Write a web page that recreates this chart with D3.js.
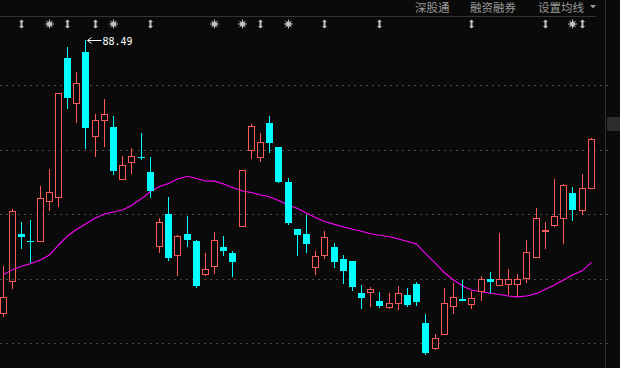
<!DOCTYPE html>
<html>
<head>
<meta charset="utf-8">
<script src="https://cdn.jsdelivr.net/npm/d3@7"></script>
<style>
  html, body { margin: 0; padding: 0; background: #0a0a0a; overflow: hidden; }
  svg { display: block; }
</style>
</head>
<body>
<svg id="chart" width="620" height="368"></svg>
<script>
// ---------- data ----------
const days = d3.range(1, 66);
const open = [67.29, 69.78, 73.50, 72.95, 72.88, 75.98, 76.29, 87.12, 83.57, 87.58, 81.02, 82.26, 81.77, 77.68, 79.00, 79.43, 78.28, 72.49, 75.02, 71.79, 73.47, 72.93, 70.32, 70.94, 72.47, 72.00, 73.98, 79.88, 79.34, 82.08, 80.22, 77.50, 73.86, 73.47, 70.86, 71.79, 72.47, 71.53, 71.38, 68.90, 68.92, 68.28, 67.76, 68.07, 68.74, 69.60, 66.57, 64.58, 65.62, 67.84, 68.43, 67.99, 68.94, 69.98, 69.47, 69.54, 69.54, 69.96, 71.64, 73.68, 74.09, 74.66, 76.65, 75.28, 76.98];
const close = [68.59, 75.26, 73.24, 72.92, 76.26, 76.73, 84.40, 84.04, 85.18, 81.71, 82.31, 82.78, 78.38, 78.82, 79.50, 79.41, 76.83, 74.40, 71.61, 73.32, 73.03, 69.47, 70.74, 73.01, 72.18, 71.33, 78.41, 81.82, 80.58, 80.55, 77.53, 74.35, 73.42, 72.72, 71.77, 73.24, 71.33, 70.63, 69.39, 68.53, 69.21, 67.91, 68.10, 68.88, 67.97, 68.22, 64.27, 65.39, 68.10, 68.59, 68.30, 68.51, 69.98, 69.78, 69.98, 69.98, 69.98, 72.08, 74.69, 73.78, 74.85, 77.27, 75.33, 77.04, 80.84];
const high = [70.99, 75.41, 74.40, 74.56, 77.19, 78.51, 84.40, 87.97, 86.03, 88.49, 82.78, 83.94, 82.62, 79.52, 80.14, 81.30, 79.44, 74.71, 76.34, 73.40, 74.89, 73.01, 72.00, 73.63, 73.32, 72.16, 78.41, 81.98, 81.30, 82.62, 80.22, 77.81, 73.86, 74.95, 72.16, 73.71, 72.78, 71.84, 71.38, 69.52, 69.36, 68.98, 68.90, 69.44, 69.29, 69.75, 67.27, 65.70, 69.29, 69.67, 69.91, 69.05, 70.22, 70.55, 73.55, 70.76, 70.37, 73.01, 75.49, 74.40, 77.71, 77.35, 77.12, 78.15, 80.94];
const low = [67.06, 69.21, 72.31, 71.25, 72.85, 75.26, 75.59, 83.16, 82.10, 80.06, 79.47, 80.24, 78.05, 77.65, 78.15, 79.23, 76.29, 72.02, 71.40, 70.24, 72.49, 69.31, 70.24, 70.40, 71.79, 70.16, 73.98, 79.31, 79.08, 79.78, 77.45, 74.19, 71.79, 72.02, 70.32, 71.56, 70.86, 69.62, 69.08, 67.68, 67.84, 67.76, 67.68, 67.60, 67.84, 67.91, 64.12, 64.50, 65.62, 67.29, 68.30, 67.68, 68.28, 68.92, 69.47, 68.72, 68.59, 69.70, 71.64, 72.33, 74.04, 72.72, 74.48, 74.92, 76.98];
const ma = [70.33, 70.71, 70.97, 71.17, 71.46, 71.84, 72.62, 73.32, 73.82, 74.25, 74.71, 75.02, 75.18, 75.33, 75.68, 76.22, 76.77, 77.16, 77.39, 77.74, 77.95, 77.78, 77.58, 77.57, 77.35, 77.08, 76.81, 76.69, 76.50, 76.36, 76.07, 75.72, 75.45, 75.10, 74.75, 74.44, 74.22, 74.02, 73.84, 73.69, 73.49, 73.37, 73.26, 73.09, 72.89, 72.70, 71.96, 71.19, 70.47, 69.91, 69.44, 69.13, 69.00, 68.88, 68.78, 68.67, 68.60, 68.67, 68.87, 69.19, 69.52, 69.91, 70.29, 70.64, 71.28];
const gridLevels = [85, 80, 75, 70, 65];
const markerDays = [3, 6, 8, 11, 13, 17, 24, 27, 29, 32, 36, 42, 52, 60, 63, 64];
const markerTypes = ["arrow", "star", "arrow", "arrow", "star", "arrow", "star", "star", "arrow", "star", "arrow", "arrow", "arrow", "arrow", "star", "arrow"];
const menuLabels = ["深股通", "融资融券", "设置均线"];

// ---------- setup ----------
const W = 620, H = 368;
const RED = "#ff5a5a", CYAN = "#00ffff", MAGENTA = "#ff00ff";
const svg = d3.select("#chart");
svg.append("rect").attr("width", W).attr("height", H).attr("fill", "#0a0a0a");

const x = d3.scaleBand().domain(days).range([-1.3, 595.9]);
const y = d3.scaleLinear().domain([65, 85]).range([343.3, 85.3]);
const cx = d => Math.floor(x(d) + x.bandwidth() / 2);

// grid
svg.append("g").selectAll("line").data(gridLevels).join("line")
  .attr("x1", 0).attr("x2", 608)
  .attr("y1", d => Math.round(y(d)) + 0.5).attr("y2", d => Math.round(y(d)) + 0.5)
  .attr("stroke", "#4a4a4a").attr("stroke-dasharray", "2,4");

// frame lines
svg.append("line").attr("x1", 0).attr("x2", 596).attr("y1", 16.5).attr("y2", 16.5)
  .attr("stroke", "#333").attr("stroke-width", 1);
svg.append("line").attr("x1", 605.5).attr("x2", 605.5).attr("y1", 0).attr("y2", H)
  .attr("stroke", "#2e2e2e").attr("stroke-width", 1);
svg.append("rect").attr("x", 607).attr("y", 117).attr("width", 14).attr("height", 14)
  .attr("rx", 2).attr("fill", "#2c2c2c");

// menu
const menuX = [415, 470, 538];
svg.append("g").selectAll("text").data(menuLabels).join("text")
  .attr("x", (d, i) => menuX[i]).attr("y", 12)
  .attr("font-family", "'Noto Sans CJK SC', sans-serif").attr("font-size", 11.5)
  .attr("fill", "#9a9a9a").text(d => d);
svg.append("path").attr("d", "M590,5 L596,5 L593,8.5 Z").attr("fill", "#9a9a9a");

// MA line
const line = d3.line().x((d, i) => cx(days[i]) + 0.5).y(d => y(d));
svg.append("path").datum(ma).attr("d", line).attr("fill", "none")
  .attr("stroke", MAGENTA).attr("stroke-width", 1.1);

// candles
const idx = d3.range(days.length);
const g = svg.append("g");
idx.forEach(i => {
  const d = days[i];
  const c = cx(d);
  const up = close[i] > open[i];
  const col = up ? RED : CYAN;
  const yTop = Math.round(y(Math.max(open[i], close[i])));
  const yBot = Math.round(y(Math.min(open[i], close[i])));
  const yH = Math.round(y(high[i]));
  const yL = Math.round(y(low[i]));
  const left = c - 3;
  if (up) {
    if (yH < yTop) g.append("line").attr("x1", c + 0.5).attr("x2", c + 0.5).attr("y1", yH).attr("y2", yTop).attr("stroke", col);
    if (yL > yBot) g.append("line").attr("x1", c + 0.5).attr("x2", c + 0.5).attr("y1", yBot).attr("y2", yL).attr("stroke", col);
    const h = Math.max(1, yBot - yTop);
    if (h <= 2) {
      g.append("rect").attr("x", left).attr("y", yTop).attr("width", 7).attr("height", Math.max(2, h)).attr("fill", col);
    } else {
      g.append("rect").attr("x", left + 0.5).attr("y", yTop + 0.5).attr("width", 6).attr("height", h - 1)
        .attr("fill", "none").attr("stroke", col).attr("stroke-width", 1);
    }
  } else {
    g.append("line").attr("x1", c + 0.5).attr("x2", c + 0.5).attr("y1", yH).attr("y2", yL).attr("stroke", col);
    g.append("rect").attr("x", left).attr("y", yTop).attr("width", 7)
      .attr("height", Math.max(1, yBot - yTop)).attr("fill", col);
  }
});

// markers
const mg = svg.append("g").attr("fill", "#c0c0c0").attr("stroke", "#c0c0c0");
markerDays.forEach((d, k) => {
  const m = cx(d) + 0.5, my = 24;
  if (markerTypes[k] === "arrow") {
    mg.append("path").attr("stroke", "none")
      .attr("d", `M${m},${my - 4.5} L${m + 2.5},${my - 2} L${m + 1},${my - 2} L${m + 1},${my + 2} L${m + 2.5},${my + 2} L${m},${my + 4.5} L${m - 2.5},${my + 2} L${m - 1},${my + 2} L${m - 1},${my - 2} L${m - 2.5},${my - 2} Z`);
  } else {
    mg.append("circle").attr("cx", m).attr("cy", my).attr("r", 2.6).attr("stroke", "none");
    [0, 45, 90, 135].forEach(a => {
      const r = a * Math.PI / 180, L = 4.5;
      mg.append("line").attr("stroke-width", 1)
        .attr("x1", m - L * Math.cos(r)).attr("y1", my - L * Math.sin(r))
        .attr("x2", m + L * Math.cos(r)).attr("y2", my + L * Math.sin(r));
    });
  }
});

// max annotation
const mi = d3.maxIndex(high);
const ax = cx(days[mi]) + 2.5, ay = Math.round(y(high[mi])) + 0.5;
svg.append("path").attr("d", `M${ax + 14},${ay} L${ax},${ay} M${ax + 4},${ay - 3} L${ax},${ay} L${ax + 4},${ay + 3}`)
  .attr("stroke", "#ffffff").attr("fill", "none").attr("stroke-width", 1);
svg.append("text").attr("x", ax + 15).attr("y", ay + 4)
  .attr("font-family", "'DejaVu Sans Mono', monospace").attr("font-size", 11)
  .attr("fill", "#ffffff").attr("textLength", 30).attr("lengthAdjust", "spacingAndGlyphs")
  .text(high[mi].toFixed(2));
</script>
</body>
</html>
